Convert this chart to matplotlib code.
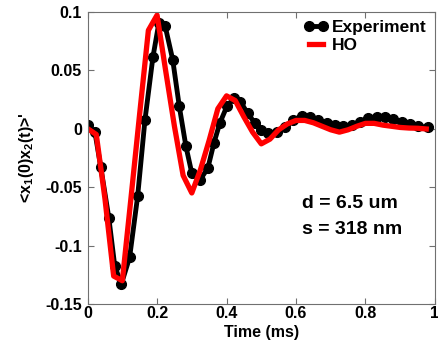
import matplotlib
matplotlib.use("Agg")
import matplotlib.pyplot as plt

plt.rcParams["font.family"] = ["Liberation Sans", "DejaVu Sans"]
plt.rcParams["font.weight"] = "bold"
plt.rcParams["mathtext.fontset"] = "custom"
plt.rcParams["mathtext.rm"] = "Liberation Sans:bold"
plt.rcParams["mathtext.bf"] = "Liberation Sans:bold"
plt.rcParams["mathtext.default"] = "bf"

# experiment (black dots)
t_exp = [0.000, 0.021, 0.038, 0.061, 0.078, 0.097, 0.121, 0.144, 0.165, 0.188,
         0.205, 0.223, 0.245, 0.264, 0.283, 0.300, 0.323, 0.346, 0.364, 0.381,
         0.401, 0.421, 0.440, 0.461, 0.481, 0.500, 0.520, 0.544, 0.568, 0.592,
         0.616, 0.640, 0.664, 0.688, 0.712, 0.736, 0.760, 0.784, 0.808, 0.832,
         0.856, 0.880, 0.904, 0.928, 0.952, 0.981]
y_exp = [0.003, -0.003, -0.033, -0.076, -0.117, -0.133, -0.110, -0.058, 0.007, 0.061,
         0.090, 0.088, 0.059, 0.019, -0.015, -0.038, -0.044, -0.034, -0.012, 0.005,
         0.019, 0.026, 0.023, 0.013, 0.005, -0.001, -0.004, -0.003, 0.001, 0.007,
         0.011, 0.010, 0.007, 0.005, 0.003, 0.002, 0.003, 0.006, 0.009, 0.010,
         0.010, 0.008, 0.006, 0.004, 0.002, 0.001]

# harmonic oscillator model (red)
t_ho = [0.0, 0.025, 0.05, 0.075, 0.1, 0.125, 0.15, 0.175, 0.2, 0.225,
        0.25, 0.275, 0.3, 0.325, 0.35, 0.375, 0.4, 0.425, 0.45, 0.475,
        0.5, 0.525, 0.55, 0.575, 0.6, 0.625, 0.65, 0.675, 0.7, 0.725,
        0.75, 0.775, 0.8, 0.825, 0.85, 0.875, 0.9, 0.925, 0.95, 0.975]
y_ho = [0.000, -0.005, -0.060, -0.126, -0.130, -0.059, 0.013, 0.084, 0.097, 0.049,
        0.002, -0.040, -0.055, -0.035, -0.010, 0.017, 0.028, 0.024, 0.010, -0.003,
        -0.013, -0.009, -0.001, 0.004, 0.007, 0.007, 0.005, 0.002, -0.001, -0.003,
        -0.001, 0.002, 0.0045, 0.0045, 0.003, 0.002, 0.001, 0.0005, 0.0003, -0.0003]

x_ticks = [0, 0.2, 0.4, 0.6, 0.8, 1]
x_ticklabels = ["0", "0.2", "0.4", "0.6", "0.8", "1"]
y_ticks = [-0.15, -0.1, -0.05, 0, 0.05, 0.1]
y_ticklabels = ["-0.15", "-0.1", "-0.05", "0", "0.05", "0.1"]

fig = plt.figure(figsize=(4.38, 3.52), dpi=100)
ax = fig.add_axes([0.200, 0.136, 0.793, 0.831])

ax.plot(t_exp, y_exp, color="black", linewidth=3.5, marker="o", markersize=7,
        label="Experiment")
ax.plot(t_ho, y_ho, color="red", linewidth=3.8, label="HO")

ax.set_xlim(0, 1)
ax.set_ylim(-0.15, 0.1)
ax.set_xticks(x_ticks)
ax.set_xticklabels(x_ticklabels)
ax.set_yticks(y_ticks)
ax.set_yticklabels(y_ticklabels)
ax.tick_params(direction="in", top=True, right=True, labelsize=11.5,
               color="#707070", length=4)
ax.tick_params(axis="x", pad=1)
ax.tick_params(axis="y", pad=4)
for s in ax.spines.values():
    s.set_color("#707070")

ax.set_xlabel("Time (ms)", fontsize=11.5, fontweight="bold", labelpad=3)
ax.set_ylabel(r"<x$_1$(0)x$_2$(t)>'", fontsize=11.5, fontweight="bold", labelpad=7)

ax.text(0.616, -0.0636, "d = 6.5 um", fontsize=14, fontweight="bold", va="center")
ax.text(0.616, -0.0858, "s = 318 nm", fontsize=14, fontweight="bold", va="center")

ax.legend(loc="upper right", frameon=False, fontsize=12.5, numpoints=2,
          handlelength=1.4, handletextpad=0.2, labelspacing=0.15,
          borderaxespad=0.3, borderpad=0.2)

fig.savefig("out.png", dpi=100, facecolor="white")
